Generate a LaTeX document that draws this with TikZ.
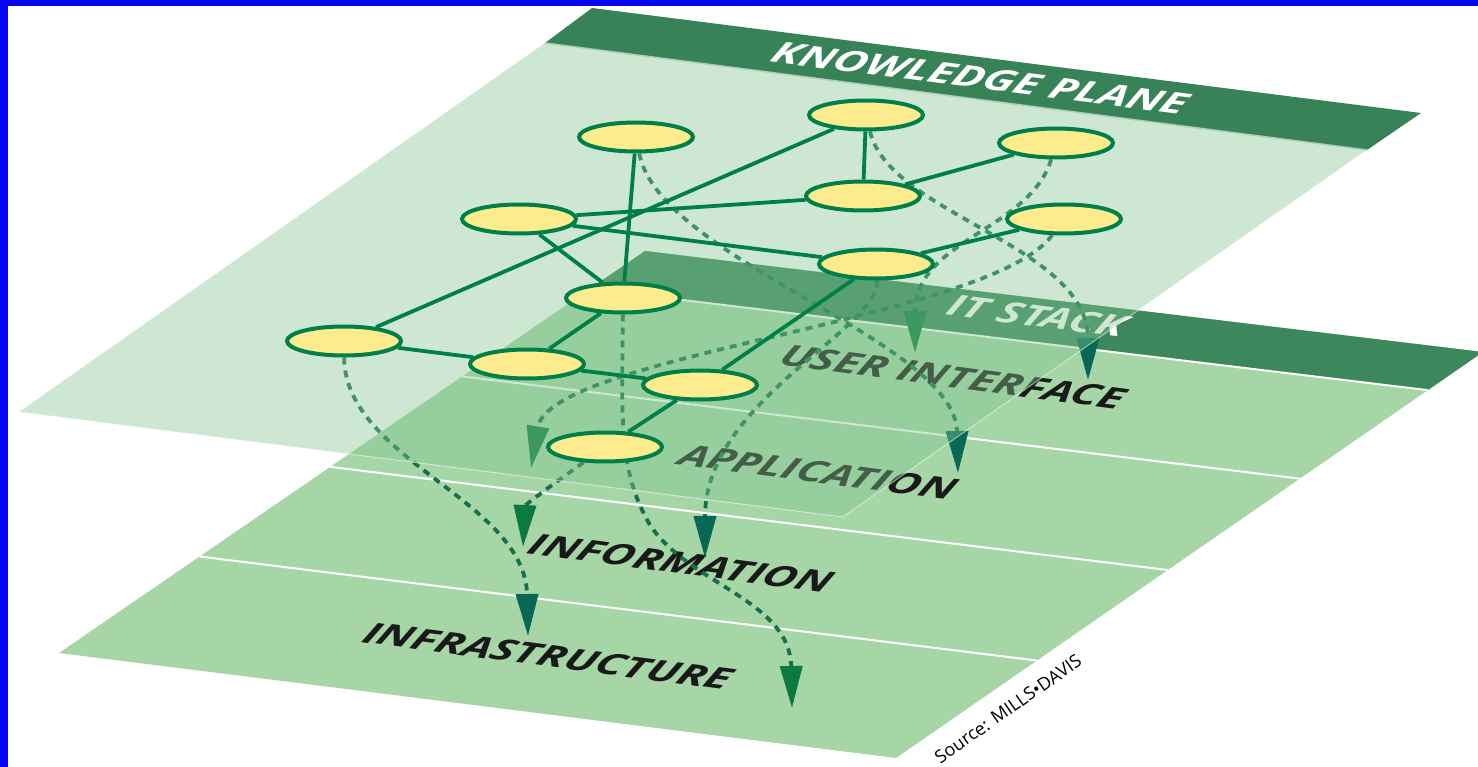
\documentclass[tikz,border=0pt]{standalone}
\usepackage{fontspec}
\newfontfamily\labelfont{Open Sans}
\usetikzlibrary{shapes.geometric,arrows.meta,calc}
\definecolor{frameblue}{RGB}{6,6,245}
\definecolor{bandgreen}{RGB}{56,130,88}
\definecolor{stackband}{RGB}{60,136,92}
\definecolor{stackgreen}{RGB}{166,213,166}
\definecolor{planegreen}{RGB}{130,197,145}
\definecolor{nodeyellow}{RGB}{253,236,142}
\definecolor{linkgreen}{RGB}{0,128,72}
\definecolor{dashgreen}{RGB}{22,112,80}
\definecolor{tipgreen}{RGB}{12,122,62}
\definecolor{tipteal}{RGB}{8,104,84}
\pgfdeclarelayer{back}
\pgfdeclarelayer{plane}
\pgfsetlayers{back,plane,main}

\begin{document}
\begin{tikzpicture}[x=1pt,y=-1pt,
    main node/.style={ellipse,draw=linkgreen,fill=nodeyellow,line width=4pt,minimum width=114pt,minimum height=29pt,inner sep=0pt},
    link/.style={color=linkgreen,line width=3.8pt},
    flow/.style={draw=dashgreen,line width=3.8pt,dash pattern=on 7pt off 6pt,-{Triangle[length=42pt,width=22pt,color=#1]}},
    flow/.default=tipteal,
    layer label/.style={font=\labelfont\bfseries\itshape\fontsize{45pt}{45pt}\selectfont,text=black!90,inner sep=0pt,rotate=-7.5,xslant=0.35,yscale=0.66},
    stripe/.style={draw=white,line width=2pt}]

    \useasboundingbox (0,0) rectangle (1478,767);

    \node[main node] (1) at (636,137) {};
    \node[main node] (2) at (866,115) {};
    \node[main node] (3) at (1056,143) {};
    \node[main node] (4) at (863,196) {};
    \node[main node] (5) at (519,219) {};
    \node[main node] (6) at (1064,219) {};
    \node[main node] (7) at (876,264) {};
    \node[main node] (8) at (623,298) {};
    \node[main node] (9) at (344,341) {};
    \node[main node] (10) at (527,364) {};
    \node[main node] (11) at (700,385) {};
    \node[main node] (12) at (605,447) {};

    \path[link]
        (1) edge (8)
        (2) edge (4)
        (2) edge (9)
        (5) edge (4)
        (5) edge (7)
        (5) edge (8)
        (4) edge (3)
        (7) edge (6)
        (7) edge (11)
        (8) edge (10)
        (9) edge (10)
        (10) edge (11)
        (11) edge (12)
    ;

    \begin{pgfonlayer}{back}
        \fill[frameblue] (0,0) rectangle (1478,767);
        \fill[white] (8,6) rectangle (1478,767);

        \coordinate (s1) at (645,251);
        \coordinate (s2) at (1483,352);
        \coordinate (s3) at (896,758);
        \coordinate (s4) at (59,653);
        \fill[stackgreen] (s1) -- (s2) -- (s3) -- (s4) -- cycle;
        \fill[stackband] (s1) -- (s2) -- ($(s2)!0.094!(s3)$) -- ($(s1)!0.094!(s4)$) -- cycle;
        \foreach \t in {0.094,0.312,0.537,0.76}
            \draw[stripe] ($(s1)!\t!(s4)$) -- ($(s2)!\t!(s3)$);

        \node[layer label,text=white,rotate=0.5] at (1037,316) {IT STACK};
        \node[layer label] at (953,377) {USER INTERFACE};
        \node[layer label] at (818,472) {APPLICATION};
        \node[layer label] at (681,563) {INFORMATION};
        \node[layer label] at (548,656) {INFRASTRUCTURE};
        \node[font=\labelfont\fontsize{18pt}{18pt}\selectfont,rotate=35,inner sep=0pt] at (1008,709) {Source: MILLS•DAVIS};

        \coordinate (a) at (915,353);
        \coordinate (b) at (1088,380);
        \coordinate (c) at (531,468);
        \coordinate (d) at (958,473);
        \coordinate (e) at (523,547);
        \coordinate (f) at (705,558);
        \coordinate (g) at (528,636);
        \coordinate (h) at (792,708);

        \draw[flow] (1) .. controls (660,260) and (955,340) .. (d);
        \draw[flow] (2) .. controls (890,215) and (1088,245) .. (b);
        \draw[flow=tipgreen] (3) .. controls (1030,230) and (915,240) .. (a);
        \draw[flow=tipgreen] (6) .. controls (990,320) and (550,355) .. (c);
        \draw[flow] (7) .. controls (880,330) and (705,400) .. (f);
        \draw[flow=tipgreen] (12) .. controls (545,490) and (525,505) .. (e);
        \draw[flow] (9) .. controls (345,460) and (525,500) .. (g);
        \draw[flow=tipgreen] (8) .. controls (622,420) and (618,470) .. (650,525) .. controls (690,585) and (790,600) .. (h);
    \end{pgfonlayer}

    \begin{pgfonlayer}{plane}
        \coordinate (k1) at (545,43);
        \coordinate (k2) at (1367,150);
        \coordinate (k3) at (843,517);
        \coordinate (k4) at (19,412);
        \fill[planegreen,fill opacity=0.4] (k1) -- (k2) -- (k3) -- (k4) -- cycle;
        \draw[white,opacity=0.5,line width=1pt] (k2) -- (k3) -- (k4);
        \fill[bandgreen] (592,8) -- (1421,113) -- (k2) -- (k1) -- cycle;
        \draw[white!60!bandgreen,line width=1.5pt] (k1) -- (k2);
        \node[layer label,text=white,rotate=0.3] at (980,78) {KNOWLEDGE PLANE};
    \end{pgfonlayer}
\end{tikzpicture}
\end{document}
